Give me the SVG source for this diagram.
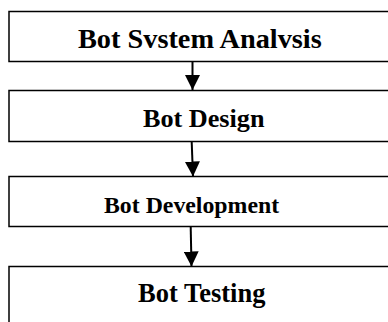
<svg xmlns="http://www.w3.org/2000/svg" width="388" height="322" viewBox="0 0 388 322">
<defs>
<style>
.box{fill:#fff;stroke:#000;stroke-width:1.5}
.lbl{font-family:"Liberation Serif","Times New Roman",serif;font-weight:bold;fill:#000}
.conn{stroke:#000;stroke-width:2;fill:none}
</style>
<marker id="ah" viewBox="0 0 10 10" refX="10" refY="5" markerWidth="7.5" markerHeight="7.5" markerUnits="strokeWidth" orient="auto">
<path d="M0,0 L10,5 L0,10 Z" fill="#000"/>
</marker>
</defs>
<rect width="388" height="322" fill="#fff"/>
<g id="node-analysis">
<rect class="box" x="9" y="11.5" width="400" height="50"/>
<text class="lbl" x="78" y="47.5" font-size="28.3">Bot Svstem Analvsis</text>
</g>
<g id="node-design">
<rect class="box" x="9" y="90.5" width="400" height="51"/>
<text class="lbl" x="143" y="127" font-size="26.2">Bot Design</text>
</g>
<g id="node-development">
<rect class="box" x="9" y="176.5" width="400" height="50"/>
<text class="lbl" x="104" y="212.5" font-size="23.8">Bot Development</text>
</g>
<g id="node-testing">
<rect class="box" x="9" y="266.5" width="400" height="80"/>
<text class="lbl" x="138" y="302" font-size="26.5">Bot Testing</text>
</g>
<g id="connectors">
<line class="conn" x1="192.5" y1="62" x2="192.5" y2="90" marker-end="url(#ah)"/>
<line class="conn" x1="191.7" y1="142" x2="193" y2="176.5" marker-end="url(#ah)"/>
<line class="conn" x1="190.7" y1="227" x2="191.5" y2="266.5" marker-end="url(#ah)"/>
</g>
</svg>
